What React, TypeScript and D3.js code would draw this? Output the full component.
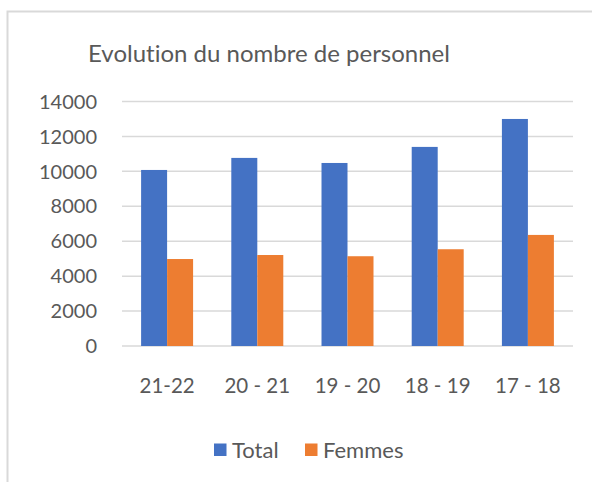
import { useEffect, useRef } from "react";
import * as d3 from "d3";

const categories = ["21-22", "20 - 21", "19 - 20", "18 - 19", "17 - 18"];
const seriesNames = ["Total", "Femmes"];
const totalValues = [10080, 10770, 10480, 11400, 13000];
const femmesValues = [4980, 5210, 5140, 5540, 6360];
const yTicks = [0, 2000, 4000, 6000, 8000, 10000, 12000, 14000];
const colors = ["#4472c4", "#ed7d31"];

export default function App() {
  const svgRef = useRef<SVGSVGElement>(null);

  useEffect(() => {
    const w = 592;
    const h = 482;
    const svg = d3.select(svgRef.current).attr("width", w).attr("height", h);
    svg.selectAll("*").remove();
    const font = "Lato, 'Open Sans', sans-serif";
    const textColor = "#595959";

    // chart area border (only left/top visible)
    svg
      .append("rect")
      .attr("x", 7.5)
      .attr("y", 11.5)
      .attr("width", 800)
      .attr("height", 800)
      .attr("fill", "#fff")
      .attr("stroke", "#d9d9d9")
      .attr("stroke-width", 2);

    // title
    svg
      .append("text")
      .attr("x", 269)
      .attr("y", 62)
      .attr("text-anchor", "middle")
      .style("font-family", font)
      .style("font-size", "24px")
      .style("font-variant-ligatures", "none")
      .style("fill", textColor)
      .text("Evolution du nombre de personnel");

    const left = 122;
    const right = 573;
    const top = 101.5;
    const bottom = 346;

    const x0 = d3.scaleBand().domain(categories).range([left, right]);
    const x1 = d3
      .scaleBand()
      .domain(seriesNames)
      .range([0, x0.bandwidth()])
      .paddingOuter(0.735);
    const y = d3.scaleLinear().domain([0, 14000]).range([bottom, top]);

    // gridlines
    svg
      .append("g")
      .selectAll("line")
      .data(yTicks)
      .join("line")
      .attr("x1", left)
      .attr("x2", right)
      .attr("y1", (d) => y(d))
      .attr("y2", (d) => y(d))
      .attr("stroke", "#d9d9d9")
      .attr("stroke-width", 1.5);

    // y labels
    svg
      .append("g")
      .selectAll("text")
      .data(yTicks)
      .join("text")
      .attr("x", 97)
      .attr("y", (d) => y(d))
      .attr("dy", "0.36em")
      .attr("text-anchor", "end")
      .style("font-family", font)
      .style("font-size", "20px")
      .style("fill", textColor)
      .text((d) => String(d));

    // bars
    const rows = categories.map((c, i) => ({
      cat: c,
      vals: [totalValues[i], femmesValues[i]],
    }));
    const groups = svg
      .append("g")
      .selectAll("g")
      .data(rows)
      .join("g")
      .attr("transform", (d) => `translate(${x0(d.cat)},0)`);
    groups
      .selectAll("rect")
      .data((d) => d.vals.map((v, j) => ({ name: seriesNames[j], v, j })))
      .join("rect")
      .attr("x", (d) => x1(d.name)!)
      .attr("y", (d) => y(d.v))
      .attr("width", x1.bandwidth())
      .attr("height", (d) => bottom - y(d.v))
      .attr("fill", (d) => colors[d.j]);

    // x labels
    svg
      .append("g")
      .selectAll("text")
      .data(categories)
      .join("text")
      .attr("x", (d) => x0(d)! + x0.bandwidth() / 2)
      .attr("y", 386)
      .attr("dy", "0.36em")
      .attr("text-anchor", "middle")
      .style("font-family", font)
      .style("font-size", "20.5px")
      .style("fill", textColor)
      .text((d) => d);

    // legend
    const legendX = [214, 305];
    const leg = svg
      .append("g")
      .selectAll("g")
      .data(seriesNames)
      .join("g")
      .attr("transform", (d, i) => `translate(${legendX[i]},450)`);
    leg
      .append("rect")
      .attr("x", 0)
      .attr("y", -6.5)
      .attr("width", 12.5)
      .attr("height", 12.5)
      .attr("fill", (d, i) => colors[i]);
    leg
      .append("text")
      .attr("x", 18)
      .attr("y", 0)
      .attr("dy", "0.36em")
      .style("font-family", font)
      .style("font-size", "22px")
      .style("fill", textColor)
      .text((d) => d);
  }, []);

  return (
    <svg
      ref={svgRef}
      style={{ position: "absolute", left: 0, top: 0, background: "#fff" }}
    ></svg>
  );
}
